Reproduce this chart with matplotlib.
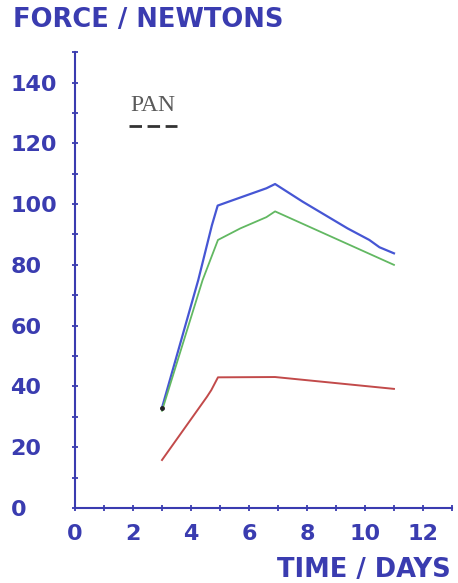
import numpy as np
import matplotlib
matplotlib.use("Agg")
import matplotlib.pyplot as plt

# readings (days, newtons)
blue_t = [3.0, 4.25, 4.72, 4.92, 5.3, 6.6, 6.9, 7.85, 9.4, 10.15, 10.5, 11.0]
blue_f = [33, 75, 93, 99.5, 100.8, 105.2, 106.6, 100.8, 92.0, 88.2, 85.8, 83.8]

green_t = [3.0, 4.4, 4.93, 5.7, 6.6, 6.9, 11.0]
green_f = [32, 75, 88.2, 92.0, 95.7, 97.6, 80.0]

red_t = [3.0, 4.55, 4.7, 4.93, 6.9, 11.0]
red_f = [15.8, 36.6, 38.8, 43.0, 43.1, 39.2]

xticks = np.arange(0, 14, 1)
xlabels = ['0', '', '2', '', '4', '', '6', '', '8', '', '10', '', '12', '']
yticks = np.arange(0, 151, 10)
ylabels = ['0', '', '20', '', '40', '', '60', '', '80', '', '100', '', '120', '', '140', '']

ink = '#3a3cb0'

fig = plt.figure(figsize=(4.58, 5.83), dpi=100)
ax = fig.add_axes([0.1638, 0.1286, 0.823, 0.782])

ax.plot(blue_t, blue_f, color='#4656d4', lw=1.6)
ax.plot(green_t, green_f, color='#62b862', lw=1.3)
ax.plot(red_t, red_f, color='#c24a4a', lw=1.4)
ax.plot([3.0], [33], 'o', color='#222222', ms=2.5)

ax.set_xlim(0, 13)
ax.set_ylim(0, 150)
ax.set_xticks(xticks)
ax.set_xticklabels(xlabels)
ax.set_yticks(yticks)
ax.set_yticklabels(ylabels)

for s in ['top', 'right']:
    ax.spines[s].set_visible(False)
for s in ['left', 'bottom']:
    ax.spines[s].set_color(ink)
    ax.spines[s].set_linewidth(1.5)

ax.tick_params(axis='both', direction='inout', length=5, width=1.3, color=ink,
               labelcolor=ink, labelsize=16)
ax.tick_params(axis='x', pad=9)
ax.tick_params(axis='y', pad=44)
for lab in ax.get_yticklabels():
    lab.set_ha('left')
    lab.set_fontweight('bold')
for lab in ax.get_xticklabels():
    lab.set_fontweight('bold')

fig.text(0.028, 0.965, 'FORCE / NEWTONS', color=ink, fontsize=18.5,
         fontweight='bold', ha='left', va='center')
fig.text(0.985, 0.022, 'TIME / DAYS', color=ink, fontsize=18.5,
         fontweight='bold', ha='right', va='center')

# little key label
ax.text(2.67, 132.5, 'PAN', family='Liberation Serif', fontsize=17,
        color='#5a5a5a', ha='center', va='center')
ax.plot([1.85, 3.5], [125.8, 125.8], color='#333333', lw=2,
        dashes=(4.5, 2), clip_on=False)

fig.savefig('out.png', dpi=100, facecolor='white')
